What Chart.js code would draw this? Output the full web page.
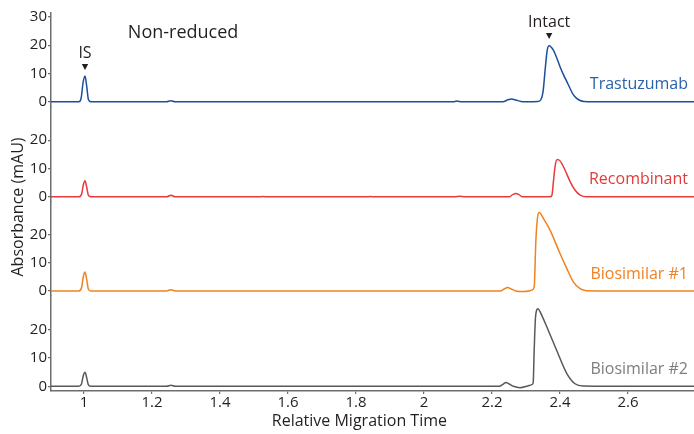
<!DOCTYPE html>
<html><head><meta charset="utf-8">
<script src="https://cdn.jsdelivr.net/npm/chart.js@4.4.1/dist/chart.umd.min.js"></script>
<style>html,body{margin:0;padding:0;background:#fff;}canvas{display:block;}</style>
</head><body>
<canvas id="c" width="694" height="434"></canvas>
<script>
// ---- data ----
const seriesNames = ['Trastuzumab', 'Recombinant', 'Biosimilar #1', 'Biosimilar #2'];
const xTickValues = [1, 1.2, 1.4, 1.6, 1.8, 2, 2.2, 2.4, 2.6];
const xTickLabels = ['1', '1.2', '1.4', '1.6', '1.8', '2', '2.2', '2.4', '2.6'];
const yTicksTrastuzumab = [0, 10, 20, 30];
const yTicksRecombinant = [0, 10, 20];
const yTicksBiosimilar1 = [0, 10, 20];
const yTicksBiosimilar2 = [0, 10, 20];
const xTitle = 'Relative Migration Time';
const yTitle = 'Absorbance (mAU)';
const panelTitle = 'Non-reduced';
const peakLabels = ['IS', 'Intact'];
const peakLabelX = [1.003, 2.368];

const trastuzumabX = [0.903, 0.985, 0.992, 0.997, 1.003, 1.008, 1.013, 1.02, 1.243, 1.255, 1.268, 1.5, 1.8, 2.085, 2.097, 2.11, 2.232, 2.247, 2.258, 2.27, 2.285, 2.3, 2.335, 2.344, 2.35, 2.356, 2.362, 2.368, 2.38, 2.39, 2.40, 2.41, 2.42, 2.43, 2.439, 2.449, 2.459, 2.47, 2.5, 2.6, 2.794];
const trastuzumabY = [0, 0, 1.5, 6.5, 9.1, 5.5, 0.8, 0, 0, 0.35, 0, 0, 0, 0, 0.25, 0, 0, 0.7, 0.95, 0.6, 0.1, 0, 0.1, 0.8, 3.5, 11, 18, 19.8, 18.3, 15.6, 12.4, 9.6, 7.1, 4.6, 2.5, 1.2, 0.45, 0.1, 0, 0, 0];

const recombinantX = [0.903, 0.985, 0.993, 0.998, 1.003, 1.008, 1.013, 1.02, 1.243, 1.256, 1.268, 1.515, 1.527, 1.54, 1.83, 1.842, 1.855, 2.09, 2.105, 2.12, 2.25, 2.262, 2.27, 2.278, 2.29, 2.37, 2.376, 2.381, 2.386, 2.392, 2.40, 2.415, 2.43, 2.444, 2.459, 2.478, 2.55, 2.794];
const recombinantY = [0, 0, 1, 4.2, 5.7, 3.4, 0.5, 0, 0, 0.6, 0, 0, 0.15, 0, 0, 0.15, 0, 0, 0.2, 0, 0, 0.9, 1.2, 0.9, 0, 0, 0.5, 5.9, 11.2, 13.2, 12.7, 9.4, 5.3, 2.4, 0.6, 0, 0, 0];

const biosimilar1X = [0.903, 0.985, 0.993, 0.998, 1.003, 1.008, 1.013, 1.02, 1.243, 1.256, 1.268, 2.224, 2.236, 2.246, 2.256, 2.27, 2.292, 2.312, 2.319, 2.324, 2.329, 2.334, 2.339, 2.351, 2.371, 2.40, 2.42, 2.439, 2.459, 2.478, 2.55, 2.794];
const biosimilar1Y = [0, 0, 1.2, 5, 6.7, 4, 0.6, 0, 0, 0.45, 0, 0, 0.7, 1.2, 0.7, 0, -0.2, 0.1, 0.4, 1.4, 17.9, 26.1, 27.7, 25.6, 21.4, 13.2, 7.9, 3.2, 0.8, 0.1, 0, 0];

const biosimilar2X = [0.903, 0.985, 0.993, 0.998, 1.003, 1.008, 1.013, 1.02, 1.243, 1.256, 1.268, 2.222, 2.232, 2.241, 2.251, 2.263, 2.282, 2.305, 2.316, 2.321, 2.324, 2.328, 2.335, 2.346, 2.361, 2.39, 2.42, 2.444, 2.468, 2.55, 2.794];
const biosimilar2Y = [0, 0, 0.9, 3.8, 5, 3, 0.5, 0, 0, 0.35, 0, 0, 0.7, 1.3, 0.8, 0, -0.5, 0.1, 0.5, 1.2, 12.7, 24.5, 27.4, 25.1, 21, 12.7, 4.5, 0.9, 0.1, 0, 0];

// ---- styling ----
const lineColors = ['#1b4f9c', '#e8393b', '#f0821f', '#58595b'];
const labelColors = ['#2862a8', '#e23b3b', '#ef8224', '#7d7e80'];
const FONT = '"Open Sans", "DejaVu Sans", sans-serif';
const axisColor = '#6d6e71';
const textColor = '#231f20';

const pts = (xs, ys) => xs.map((x, i) => ({x, y: ys[i]}));
const seriesX = [trastuzumabX, recombinantX, biosimilar1X, biosimilar2X];
const seriesY = [trastuzumabY, recombinantY, biosimilar1Y, biosimilar2Y];
const axisIds = ['yT', 'yR', 'yB1', 'yB2'];
const axisTicks = [yTicksTrastuzumab, yTicksRecombinant, yTicksBiosimilar1, yTicksBiosimilar2];
const axisRanges = [[-1.66, 31.34], [-1.66, 31.9], [-1.66, 31.55], [-1.66, 32.0]];

const datasets = seriesNames.map((name, i) => ({
  label: name,
  data: pts(seriesX[i], seriesY[i]),
  borderColor: lineColors[i],
  borderWidth: 1.5,
  pointRadius: 0,
  fill: false,
  cubicInterpolationMode: 'monotone',
  yAxisID: axisIds[i]
}));

const scales = {
  x: {
    type: 'linear', min: 0.903, max: 2.794,
    afterBuildTicks: s => { s.ticks = xTickValues.map(v => ({value: v})); },
    afterFit: s => { s.height = 43; },
    ticks: {
      color: textColor, font: {family: FONT, size: 15}, padding: 0, maxRotation: 0,
      autoSkip: false,
      callback: (v, i) => xTickLabels[i]
    },
    grid: {display: true, drawOnChartArea: false, drawTicks: true, tickLength: 3, color: axisColor, lineWidth: 1.2},
    border: {display: true, color: axisColor, width: 1.5},
    title: {display: false}
  }
};
axisIds.forEach((id, i) => {
  scales[id] = {
    type: 'linear', position: 'left', stack: 'y',
    stackWeight: axisRanges[i][1] - axisRanges[i][0],
    weight: 4 - i,
    min: axisRanges[i][0], max: axisRanges[i][1],
    afterBuildTicks: s => { s.ticks = axisTicks[i].map(v => ({value: v})); },
    afterFit: s => { s.width = 51; },
    ticks: {color: textColor, font: {family: FONT, size: 15}, padding: 1, autoSkip: false,
      callback: v => String(v)},
    grid: {display: true, drawOnChartArea: false, drawTicks: true, tickLength: 3, color: axisColor, lineWidth: 1.2},
    border: {display: true, color: axisColor, width: 1.5}
  };
});

const annot = {
  id: 'annot',
  afterDraw(chart) {
    const {ctx, scales: sc, chartArea} = chart;
    const xs = sc.x;
    ctx.save();
    // panel title
    ctx.fillStyle = textColor;
    ctx.font = '18px ' + FONT;
    ctx.textAlign = 'left'; ctx.textBaseline = 'middle';
    ctx.fillText(panelTitle, xs.getPixelForValue(1.129), sc.yT.getPixelForValue(24.4));
    // peak labels with arrows
    const labY = [17.2, 27.9];
    const arrY = [12.3, 23.2];
    ctx.font = '16px ' + FONT;
    ctx.textAlign = 'center';
    peakLabels.forEach((t, i) => {
      const px = xs.getPixelForValue(peakLabelX[i]);
      ctx.fillText(t, px, sc.yT.getPixelForValue(labY[i]));
      const ay = sc.yT.getPixelForValue(arrY[i]);
      ctx.beginPath();
      ctx.moveTo(px - 3.2, ay - 3);
      ctx.lineTo(px + 3.2, ay - 3);
      ctx.lineTo(px, ay + 3);
      ctx.closePath();
      ctx.fill();
    });
    // series labels
    ctx.textAlign = 'right';
    seriesNames.forEach((n, i) => {
      ctx.fillStyle = labelColors[i];
      ctx.fillText(n, chartArea.right - 6, sc[axisIds[i]].getPixelForValue(6));
    });
    // x title
    ctx.fillStyle = textColor;
    ctx.textAlign = 'center';
    ctx.fillText(xTitle, xs.getPixelForValue(1.81), 421.5);
    // y title
    ctx.translate(18, 207);
    ctx.rotate(-Math.PI / 2);
    ctx.fillText(yTitle, 0, 0);
    ctx.restore();
  }
};

new Chart(document.getElementById('c'), {
  type: 'line',
  data: {datasets},
  options: {
    responsive: false,
    animation: false,
    layout: {padding: {top: 13, right: 0, left: 0, bottom: 0}},
    plugins: {legend: {display: false}, tooltip: {enabled: false}},
    scales
  },
  plugins: [annot]
});
</script>
</body></html>
